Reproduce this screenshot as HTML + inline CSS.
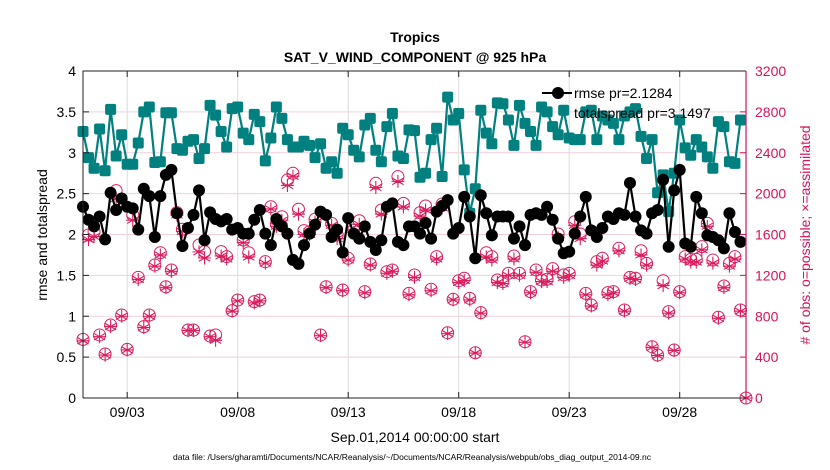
<!DOCTYPE html>
<html><head><meta charset="utf-8"><style>
body{margin:0;background:#fff;}
svg{display:block;font-family:"Liberation Sans",Arial,sans-serif;}
</style></head><body>
<svg id="chart" width="830" height="470" viewBox="0 0 830 470">
<rect width="830" height="470" fill="#fff"/>
<g id="grid"></g>
<g id="series"></g>
<g id="axes"></g>
<text x="415" y="42" text-anchor="middle" font-size="14" font-weight="bold">Tropics</text>
<text x="415" y="62" text-anchor="middle" font-size="14" font-weight="bold">SAT_V_WIND_COMPONENT @ 925 hPa</text>
<text x="415" y="442" text-anchor="middle" font-size="14">Sep.01,2014 00:00:00 start</text>
<text x="412" y="460" text-anchor="middle" font-size="8.5">data file: /Users/gharamti/Documents/NCAR/Reanalysis/~/Documents/NCAR/Reanalysis/webpub/obs_diag_output_2014-09.nc</text>
<text transform="translate(47,235) rotate(-90)" text-anchor="middle" font-size="14">rmse and totalspread</text>
<text transform="translate(810,235) rotate(-90)" text-anchor="middle" font-size="14" fill="#d6125a"># of obs: o=possible; ×=assimilated</text>
<g>
<line x1="542" y1="93" x2="572" y2="93" stroke="#000" stroke-width="2"/>
<circle cx="558" cy="93" r="6" fill="#000"/>
<text x="574" y="98" font-size="14">rmse pr=2.1284</text>
<text x="574" y="118" font-size="14">totalspread pr=3.1497</text>
</g>
</svg>
<script>
const rmse=[2.34,2.18,2.10,2.22,1.94,2.51,2.30,2.44,2.34,2.32,2.06,2.56,2.47,1.97,2.47,2.73,2.79,2.26,1.86,2.08,2.24,2.54,1.93,2.27,2.19,2.16,2.19,2.06,2.08,2.01,
2.01,2.18,2.30,2.01,1.87,2.19,2.10,2.01,1.69,1.64,1.87,2.01,2.12,2.28,2.24,1.97,2.06,1.78,2.20,2.01,1.95,2.10,1.91,1.81,1.93,2.34,2.38,1.91,1.87,2.10,
2.10,2.01,2.14,1.95,2.28,2.35,2.42,2.01,2.08,2.46,2.22,1.71,2.48,2.26,1.99,2.22,2.22,2.22,1.95,2.10,1.87,2.24,2.26,2.24,2.34,2.18,1.95,1.77,1.79,2.01,
2.22,2.46,2.05,1.97,2.08,2.22,2.19,2.26,2.24,2.63,2.22,2.05,2.01,2.26,2.30,2.67,1.85,2.54,2.79,1.89,1.85,2.46,2.26,1.99,1.97,1.93,1.83,2.26,2.03,1.91];
const spread=[3.26,2.94,2.81,3.29,2.78,3.53,2.96,3.22,2.86,2.86,3.12,3.50,3.56,2.88,2.89,3.49,3.49,3.05,3.03,3.14,3.16,2.93,3.05,3.58,3.46,3.26,3.07,3.54,3.56,3.24,
3.16,3.47,3.38,2.90,3.18,3.56,3.42,3.16,3.07,3.07,3.14,3.09,2.94,3.11,2.81,2.89,2.75,3.30,3.22,3.03,2.95,3.34,3.42,3.03,2.89,3.32,3.48,2.96,2.93,3.28,
3.27,2.70,2.75,3.16,3.30,2.71,3.68,3.40,3.48,2.79,2.26,2.56,3.52,3.24,3.11,3.61,3.60,3.40,3.09,3.58,3.36,3.26,3.09,3.56,3.50,3.32,3.22,3.52,3.18,3.16,
3.16,3.50,3.52,3.16,3.45,3.40,3.36,3.16,3.45,3.50,3.54,3.20,2.93,3.16,2.51,2.73,2.28,2.75,3.40,3.06,2.97,3.16,3.07,2.95,2.81,3.38,3.32,2.89,2.87,3.40];
const possible=[574,1595,1627,617,430,714,2029,812,476,1791,1181,698,812,1302,1422,1089,1253,1814,1651,665,665,1497,1432,607,617,1432,1383,855,959,1546,
1422,943,959,1334,1872,1703,1774,2133,2199,1847,1638,1627,1749,617,1089,1709,1595,1057,1367,1644,1735,1041,1311,2101,1840,1236,1253,2166,1905,1024,
1204,1814,1879,1064,1383,1898,639,966,1148,1172,975,443,835,1422,1383,1155,1139,1220,1390,1220,551,1041,1253,1155,1162,1266,1605,1204,1220,1725,
1605,1024,910,1334,1367,1031,1041,1465,861,1181,1172,1441,1318,502,421,1148,845,470,1041,1383,1357,1357,1481,1709,1350,790,1096,1318,1383,861,0];
const assimilated=[560,1550,1580,600,420,700,1950,800,470,1740,1160,690,800,1290,1400,1080,1240,1790,1630,660,660,1430,1370,600,565,1390,1360,850,950,1520,
1380,930,950,1320,1850,1680,1740,2080,2170,1800,1600,1600,1720,610,1080,1690,1560,1050,1350,1620,1700,1030,1300,2060,1800,1220,1240,2120,1870,1010,
1180,1780,1840,1050,1360,1860,630,960,1130,1150,960,440,830,1380,1350,1130,1120,1200,1360,1200,545,1030,1230,1140,1140,1240,1570,1180,1200,1690,
1560,1010,900,1300,1340,1010,1030,1440,850,1170,1160,1400,1300,495,415,1100,830,465,1030,1360,1330,1330,1450,1680,1320,780,1080,1290,1360,850,0];
const yTicks=[0,0.5,1,1.5,2,2.5,3,3.5,4];
const yTickLabels=["0","0.5","1","1.5","2","2.5","3","3.5","4"];
const rTicks=[0,400,800,1200,1600,2000,2400,2800,3200];
const xTickDays=[2,7,12,17,22,27];
const xTickLabels=["09/03","09/08","09/13","09/18","09/23","09/28"];

const L=83,R=746,T=71,B=398,NS="http://www.w3.org/2000/svg";
const xS=d=>L+(d/30)*(R-L);
const xI=i=>xS(i*0.25);
const yS=v=>B-(v/4)*(B-T);
const yR=c=>B-(c/3200)*(B-T);
function mk(tag,attrs,parent){const e=document.createElementNS(NS,tag);for(const k in attrs)e.setAttribute(k,attrs[k]);parent.appendChild(e);return e;}
const grid=document.getElementById('grid'),ser=document.getElementById('series'),ax=document.getElementById('axes');

yTicks.forEach((v,i)=>{
  const g=mk('line',{x1:L,x2:R,y1:yS(v),y2:yS(v),stroke:'#f3cfdd','stroke-width':1},grid);
  
  
  const t=mk('text',{x:L-7,y:yS(v)+5,'text-anchor':'end','font-size':14},ax);
  t.textContent=yTickLabels[i];
  
  
  const tk=mk('line',{x1:L,x2:L+6,y1:yS(v),y2:yS(v),stroke:'#222'},ax);
  
  
});
rTicks.forEach(c=>{
  const t=mk('text',{x:R+9,y:yR(c)+5,'font-size':14,fill:'#d6125a'},ax);
  t.textContent=String(c);
  
  
  const tk=mk('line',{x1:R-6,x2:R,y1:yR(c),y2:yR(c),stroke:'#d6125a'},ax);
  
  
});
xTickDays.forEach((d,i)=>{
  const g=mk('line',{x1:xS(d),x2:xS(d),y1:T,y2:B,stroke:'#dcdcdc','stroke-width':1},grid);
  
  
  const t=mk('text',{x:xS(d),y:417,'text-anchor':'middle','font-size':14},ax);
  t.textContent=xTickLabels[i];
  
  
  const tk=mk('line',{x1:xS(d),x2:xS(d),y1:B-6,y2:B,stroke:'#222'},ax);
  
  
  const tk2=mk('line',{x1:xS(d),x2:xS(d),y1:T,y2:T+6,stroke:'#222'},ax);
  
  
});
const frame=mk('path',{d:`M${L},${B}V${T}H${R}`,fill:'none',stroke:'#222','stroke-width':1},ax);


const bx=mk('line',{x1:L,x2:R,y1:B,y2:B,stroke:'#222'},ax);


const ry=mk('line',{x1:R,x2:R,y1:T,y2:B,stroke:'#d6125a','stroke-width':1.2},ax);



possible.forEach((c,i)=>{
  const p=mk('circle',{cx:xI(i),cy:yR(c),r:6,fill:'none',stroke:'#dc1c5c','stroke-width':1},ser);
  
  
});
assimilated.forEach((c,i)=>{
  const x=xI(i),y=yR(c),r=6.5;let d='';
  for(let k=0;k<3;k++){const a=Math.PI/2+k*Math.PI/3;d+=`M${x-r*Math.cos(a)},${y-r*Math.sin(a)}L${x+r*Math.cos(a)},${y+r*Math.sin(a)}`;}
  d+=`M${x-r},${y}L${x+r},${y}`;
  const p=mk('path',{d:d,stroke:'#dc1c5c','stroke-width':1.1,fill:'none'},ser);
  
  
});
const sl=mk('polyline',{points:spread.map((v,i)=>xI(i)+','+yS(v)).join(' '),fill:'none',stroke:'#00807f','stroke-width':2.2},ser);


spread.forEach((v,i)=>{
  const s=mk('rect',{x:xI(i)-5.5,y:yS(v)-5.5,width:11,height:11,rx:2,fill:'#00807f'},ser);
  
  
});
const rl=mk('polyline',{points:rmse.map((v,i)=>xI(i)+','+yS(v)).join(' '),fill:'none',stroke:'#000','stroke-width':2.2},ser);


rmse.forEach((v,i)=>{
  const c=mk('circle',{cx:xI(i),cy:yS(v),r:6,fill:'#000'},ser);
  
  
});
</script>
</body></html>
